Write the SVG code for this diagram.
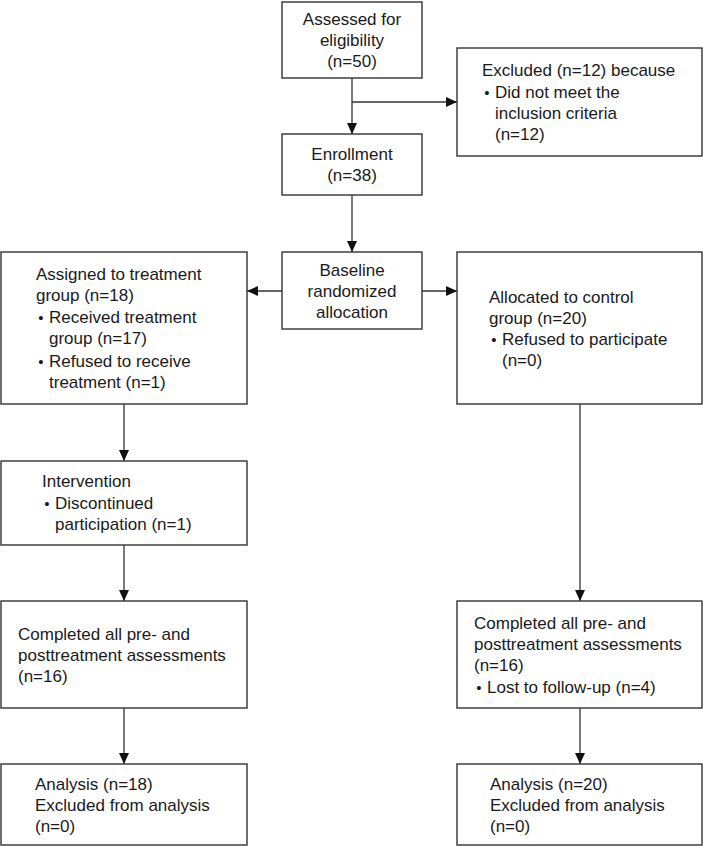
<svg xmlns="http://www.w3.org/2000/svg" width="703" height="846" viewBox="0 0 703 846">
<style>
.box{fill:#fff;stroke:#333;stroke-width:1.4}
.t{font-family:"Liberation Sans",Arial,sans-serif;font-size:17px;fill:#1a1a1a}
.c{text-anchor:middle}
.b{font-family:"Liberation Sans",Arial,sans-serif;font-size:15px;fill:#1a1a1a;text-anchor:middle}
.ln{stroke:#333;stroke-width:1.3;fill:none;marker-end:url(#ah)}
</style>
<defs>
<marker id="ah" markerUnits="userSpaceOnUse" markerWidth="12" markerHeight="10" refX="11" refY="5" orient="auto" viewBox="0 0 12 10">
<path d="M0,0 L11,5 L0,10 z" fill="#111"/>
</marker>
</defs>
<rect width="703" height="846" fill="#fff"/>
<g id="connectors">
<line class="ln" x1="352" y1="78" x2="352" y2="134"/>
<line class="ln" x1="352" y1="102" x2="457" y2="102"/>
<line class="ln" x1="352" y1="195" x2="352" y2="252"/>
<line class="ln" x1="282" y1="291" x2="247" y2="291"/>
<line class="ln" x1="422" y1="291" x2="457" y2="291"/>
<line class="ln" x1="124" y1="404" x2="124" y2="461"/>
<line class="ln" x1="124" y1="545" x2="124" y2="601"/>
<line class="ln" x1="124" y1="708" x2="124" y2="764"/>
<line class="ln" x1="580" y1="404" x2="580" y2="601"/>
<line class="ln" x1="580" y1="708" x2="580" y2="764"/>
</g>
<g id="assessed">
<rect class="box" x="282" y="2" width="140" height="76"/>
<text class="t c" x="352" y="25">Assessed for</text>
<text class="t c" x="352" y="46">eligibility</text>
<text class="t c" x="352" y="67">(n=50)</text>
</g>
<g id="excluded">
<rect class="box" x="457" y="48" width="245" height="108"/>
<text class="t" x="482" y="76">Excluded (n=12) because</text>
<text class="b" x="487" y="98">•</text>
<text class="t" x="495" y="98">Did not meet the</text>
<text class="t" x="495" y="119">inclusion criteria</text>
<text class="t" x="495" y="140">(n=12)</text>
</g>
<g id="enrollment">
<rect class="box" x="282" y="134" width="140" height="61"/>
<text class="t c" x="352" y="160">Enrollment</text>
<text class="t c" x="352" y="181">(n=38)</text>
</g>
<g id="baseline">
<rect class="box" x="282" y="252" width="140" height="77"/>
<text class="t c" x="352" y="276">Baseline</text>
<text class="t c" x="352" y="297">randomized</text>
<text class="t c" x="352" y="318">allocation</text>
</g>
<g id="treatment">
<rect class="box" x="1" y="252" width="246" height="152"/>
<text class="t" x="36" y="280">Assigned to treatment</text>
<text class="t" x="36" y="301">group (n=18)</text>
<text class="b" x="41" y="323">•</text>
<text class="t" x="49" y="323">Received treatment</text>
<text class="t" x="49" y="344">group (n=17)</text>
<text class="b" x="41" y="367">•</text>
<text class="t" x="49" y="367">Refused to receive</text>
<text class="t" x="49" y="388">treatment (n=1)</text>
</g>
<g id="control">
<rect class="box" x="457" y="252" width="245" height="152"/>
<text class="t" x="489" y="303">Allocated to control</text>
<text class="t" x="489" y="324">group (n=20)</text>
<text class="b" x="494" y="345">•</text>
<text class="t" x="502" y="345">Refused to participate</text>
<text class="t" x="502" y="366">(n=0)</text>
</g>
<g id="intervention">
<rect class="box" x="1" y="461" width="246" height="84"/>
<text class="t" x="42" y="487">Intervention</text>
<text class="b" x="47" y="509">•</text>
<text class="t" x="55" y="509">Discontinued</text>
<text class="t" x="55" y="530">participation (n=1)</text>
</g>
<g id="completed-left">
<rect class="box" x="1" y="601" width="246" height="107"/>
<text class="t" x="18" y="640">Completed all pre- and</text>
<text class="t" x="18" y="661">posttreatment assessments</text>
<text class="t" x="18" y="682">(n=16)</text>
</g>
<g id="completed-right">
<rect class="box" x="457" y="601" width="245" height="107"/>
<text class="t" x="474" y="629">Completed all pre- and</text>
<text class="t" x="474" y="650">posttreatment assessments</text>
<text class="t" x="474" y="671">(n=16)</text>
<text class="b" x="479" y="693">•</text>
<text class="t" x="487" y="693">Lost to follow-up (n=4)</text>
</g>
<g id="analysis-left">
<rect class="box" x="1" y="764" width="246" height="81"/>
<text class="t" x="35" y="790">Analysis (n=18)</text>
<text class="t" x="35" y="811">Excluded from analysis</text>
<text class="t" x="35" y="832">(n=0)</text>
</g>
<g id="analysis-right">
<rect class="box" x="457" y="764" width="245" height="81"/>
<text class="t" x="490" y="790">Analysis (n=20)</text>
<text class="t" x="490" y="811">Excluded from analysis</text>
<text class="t" x="490" y="832">(n=0)</text>
</g>
</svg>
